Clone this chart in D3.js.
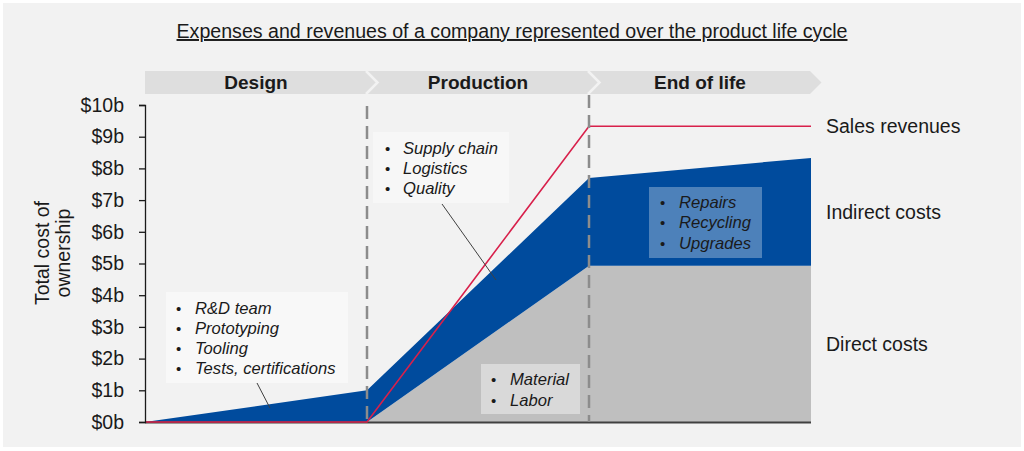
<!DOCTYPE html>
<html>
<head>
<meta charset="utf-8">
<script src="https://cdn.jsdelivr.net/npm/d3@7"></script>
<style>
  html, body { margin: 0; padding: 0; background: #ffffff; }
  svg { display: block; font-family: "Liberation Sans", Arial, sans-serif; }
</style>
</head>
<body>
<svg id="chart" width="1024" height="451"></svg>
<script>
// ---- Data ----
const stages = [0, 1, 2, 3];                       // phase boundaries
const phases = ["Design", "Production", "End of life"];
const directCosts = [0, 0, 4.93, 4.93];            // $b
const indirectCosts = [0, 1.0, 2.77, 3.4];         // $b, stacked on direct
const salesRevenues = [0, 0, 9.33, 9.33];          // $b
const yTicks = [0, 1, 2, 3, 4, 5, 6, 7, 8, 9, 10];
const yTickLabels = yTicks.map(v => "$" + v + "b");
const seriesLabels = ["Sales revenues", "Indirect costs", "Direct costs"];
const titleText = "Expenses and revenues of a company represented over the product life cycle";
const yAxisTitle = ["Total cost of", "ownership"];
const designNotes = ["R&D team", "Prototyping", "Tooling", "Tests, certifications"];
const productionNotes = ["Supply chain", "Logistics", "Quality"];
const directNotes = ["Material", "Labor"];
const endNotes = ["Repairs", "Recycling", "Upgrades"];

// ---- Setup ----
const svg = d3.select("#chart");
const BG = "#f2f2f2", BLUE = "#004b9d", GRAY = "#bfbfbf", RED = "#d8204b";

svg.append("rect").attr("x", 3).attr("y", 3).attr("width", 1018).attr("height", 444).attr("fill", BG);

const x = d3.scaleLinear().domain([0, 3]).range([145, 811]);
const y = d3.scaleLinear().domain([0, 10]).range([422, 105]);

const rows = stages.map((s, i) => ({
  s, direct: directCosts[i], total: directCosts[i] + indirectCosts[i], sales: salesRevenues[i]
}));

// Title
svg.append("text")
  .attr("x", 512).attr("y", 38)
  .attr("text-anchor", "middle")
  .style("font-size", "19.6px")
  .style("text-decoration", "underline")
  .attr("fill", "#1a1a1a")
  .text(titleText);

// Phase banner
const bTop = 71, bBot = 94, bMid = (bTop + bBot) / 2, tip = (bBot - bTop) / 2;
svg.append("polygon")
  .attr("points", [[x(0), bTop], [x(3) - 1, bTop], [x(3) - 1 + tip, bMid], [x(3) - 1, bBot], [x(0), bBot]].map(p => p.join(",")).join(" "))
  .attr("fill", "#dedede");
[1, 2].forEach(s => {
  svg.append("polyline")
    .attr("points", [[x(s) - 1, bTop], [x(s) - 1 + tip, bMid], [x(s) - 1, bBot]].map(p => p.join(",")).join(" "))
    .attr("fill", "none").attr("stroke", BG).attr("stroke-width", 2.5);
});
svg.selectAll("text.phase").data(phases).enter().append("text")
  .attr("class", "phase")
  .attr("x", (d, i) => (x(i) + x(i + 1)) / 2)
  .attr("y", bMid)
  .attr("dominant-baseline", "central")
  .attr("text-anchor", "middle")
  .style("font-size", "19px").style("font-weight", "bold")
  .attr("fill", "#1a1a1a")
  .text(d => d);

// Areas
const directArea = d3.area().x(d => x(d.s)).y0(y(0)).y1(d => y(d.direct));
const indirectArea = d3.area().x(d => x(d.s)).y0(d => y(d.direct)).y1(d => y(d.total));
svg.append("path").datum(rows).attr("d", directArea).attr("fill", GRAY);
svg.append("path").datum(rows).attr("d", indirectArea).attr("fill", BLUE);

// Bottom axis line
svg.append("line").attr("x1", x(0)).attr("x2", x(3)).attr("y1", y(0) + 0.5).attr("y2", y(0) + 0.5)
  .attr("stroke", "#404040").attr("stroke-width", 2);

// Sales line
svg.append("path").datum(rows)
  .attr("d", d3.line().x(d => x(d.s)).y(d => y(d.sales)))
  .attr("fill", "none").attr("stroke", RED).attr("stroke-width", 1.6);

// Dashed phase separators
[[1, 106], [2, 95]].forEach(([s, top]) => {
  svg.append("line").attr("x1", x(s)).attr("x2", x(s)).attr("y1", top).attr("y2", y(0))
    .attr("stroke", "#8c8c8c").attr("stroke-width", 2.5).attr("stroke-dasharray", "13,7");
});

// Y axis
const yAxis = d3.axisLeft(y).tickValues(yTicks).tickFormat((d, i) => yTickLabels[i]).tickSize(6).tickPadding(15);
const gy = svg.append("g").attr("transform", `translate(${x(0)},0)`).call(yAxis);
gy.select(".domain").attr("stroke", "#1a1a1a").attr("stroke-width", 1.3);
gy.selectAll(".tick line").attr("stroke", "#1a1a1a").attr("stroke-width", 1.3);
gy.selectAll(".tick text").style("font-size", "19.5px").style("font-family", "'Liberation Sans', Arial, sans-serif").attr("fill", "#1a1a1a");

// Y axis title
const yt = svg.append("text")
  .attr("transform", `translate(0,253) rotate(-90)`)
  .attr("text-anchor", "middle")
  .style("font-size", "19.5px").attr("fill", "#1a1a1a");
yAxisTitle.forEach((t, i) => {
  yt.append("tspan").attr("x", 0).attr("y", 42 + i * 21).attr("dominant-baseline", "central").text(t);
});

// Annotation boxes
function noteBox(box, lines, opts) {
  svg.append("rect").attr("x", box[0]).attr("y", box[1]).attr("width", box[2] - box[0]).attr("height", box[3] - box[1])
    .attr("fill", opts.fill);
  lines.forEach((t, i) => {
    const cy = opts.y0 + i * opts.dy;
    svg.append("text").attr("x", opts.bx).attr("y", cy).attr("dominant-baseline", "central")
      .style("font-size", "15px").attr("fill", "#1a1a1a").text("\u2022");
    svg.append("text").attr("x", opts.tx).attr("y", cy).attr("dominant-baseline", "central")
      .style("font-size", "16.6px").style("font-style", "italic").attr("fill", "#1a1a1a").text(t);
  });
}
noteBox([166, 292, 348, 383], designNotes, { fill: "#f8f8f8", bx: 176, tx: 195, y0: 308, dy: 20 });
noteBox([373, 132, 509, 203], productionNotes, { fill: "#f7f7f7", bx: 385, tx: 403, y0: 148, dy: 20 });
noteBox([481, 364, 580, 414], directNotes, { fill: "#d9d9d9", bx: 491, tx: 510, y0: 379, dy: 21 });
noteBox([649, 187, 762, 258], endNotes, { fill: "rgba(255,255,255,0.3)", bx: 660, tx: 679, y0: 202, dy: 20.5 });

// Leader lines
[[257, 383, 270, 408], [442, 204, 496, 280]].forEach(([x1, y1, x2, y2]) => {
  svg.append("line").attr("x1", x1).attr("y1", y1).attr("x2", x2).attr("y2", y2)
    .attr("stroke", "#404040").attr("stroke-width", 1);
});

// Series labels on the right
const last = rows[rows.length - 1];
const labelYs = [y(last.sales), (y(last.total) + y(last.direct)) / 2, (y(last.direct) + y(0)) / 2];
seriesLabels.forEach((t, i) => {
  svg.append("text").attr("x", 826).attr("y", labelYs[i]).attr("dominant-baseline", "central")
    .style("font-size", "19.5px").attr("fill", "#1a1a1a").text(t);
});
</script>
</body>
</html>
